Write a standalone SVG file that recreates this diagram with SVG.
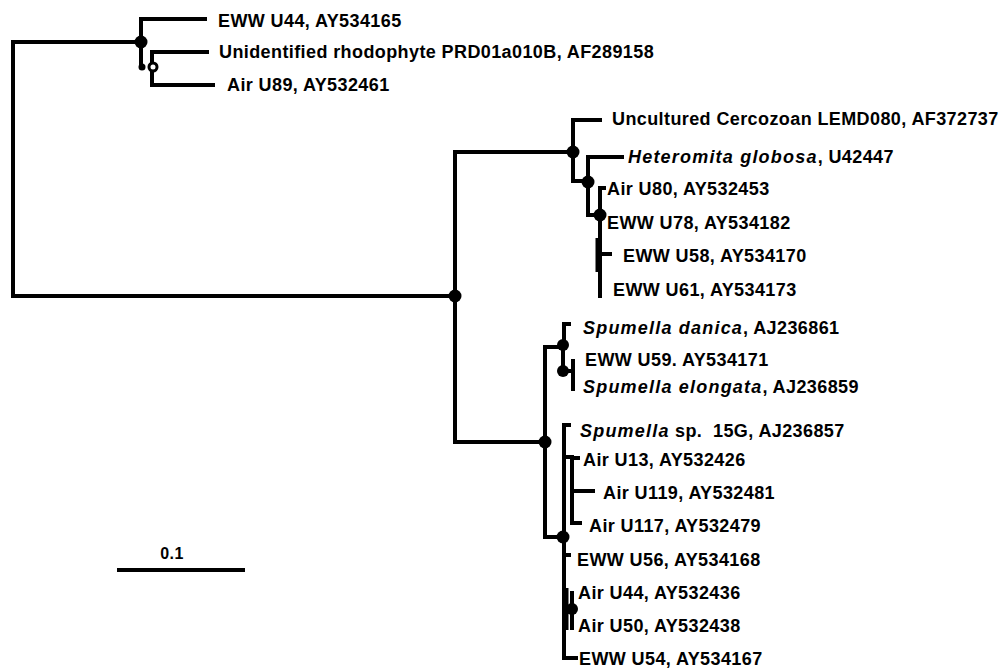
<svg xmlns="http://www.w3.org/2000/svg" width="1004" height="669" viewBox="0 0 1004 669">
<style>
.lbl{font-family:"Liberation Sans",Arial,sans-serif;font-weight:bold;font-size:18px;fill:#000;letter-spacing:0.4px}
.it{font-style:italic;letter-spacing:1.2px}
.br{fill:none;stroke:#000;stroke-width:4;stroke-linecap:square;stroke-linejoin:miter}
.thin{fill:none;stroke:#000;stroke-width:3}
.dot{fill:#000}
.open{fill:#fff;stroke:#000;stroke-width:3}
</style>
<rect width="1004" height="669" fill="#fff"/>
<g id="connectors">
<path class="br" d="M141,42 H13 V296 H455"/>
<path class="br" d="M205,19 H141 V67"/>
<path class="br" d="M207,52 H152 V85 H213"/>
<path class="br" d="M455,296 V152 H573"/>
<path class="br" d="M455,296 V442 H545"/>
<path class="br" d="M600,120 H573 V181 H588"/>
<path class="br" d="M622,157 H588 V215 H600"/>
<path class="br" d="M604,188 H600 V296"/>
<path class="br" d="M600,254 H610"/>
<path class="thin" d="M597,238 V272"/>
<path class="br" d="M563,347 H545 V537 H563"/>
<path class="br" d="M569,324 H564 V347"/>
<path class="br" d="M563,347 V371 H573"/>
<path class="br" d="M573,361 V389"/>
<path class="br" d="M569,425 H564 V658 H576"/>
<path class="br" d="M564,457 H572 V523 H580"/>
<path class="br" d="M572,458 H578"/>
<path class="br" d="M572,491 H593"/>
<path class="br" d="M564,555 H569"/>
<path class="br" d="M564,609 H572"/>
<path class="br" d="M572,593 V628"/>
<path class="thin" d="M567,588 V630"/>
</g>
<g id="internal-nodes">
<circle id="n-top" class="dot" cx="141" cy="42" r="6.5"/>
<circle id="n-top-small" class="dot" cx="142" cy="67" r="3.5"/>
<circle id="n-top-open" class="open" cx="153" cy="67" r="4"/>
<circle id="n-main" class="dot" cx="455" cy="296" r="6.5"/>
<circle id="n-cerc" class="dot" cx="573" cy="152" r="6.5"/>
<circle id="n-hetero" class="dot" cx="588" cy="182" r="6.5"/>
<circle id="n-u78" class="dot" cx="600" cy="215" r="6.5"/>
<circle id="n-spum" class="dot" cx="545" cy="442" r="6.5"/>
<circle id="n-danica" class="dot" cx="563" cy="345" r="6"/>
<circle id="n-elong" class="dot" cx="563" cy="371" r="6"/>
<circle id="n-air" class="dot" cx="563" cy="537" r="6.5"/>
<circle id="n-u44" class="dot" cx="572" cy="609" r="6"/>
</g>
<g id="leaf-eww-u44"><text class="lbl" x="218" y="27">EWW U44, AY534165</text></g>
<g id="leaf-rhodophyte"><text class="lbl" x="219" y="58">Unidentified rhodophyte PRD01a010B, AF289158</text></g>
<g id="leaf-air-u89"><text class="lbl" x="227" y="91">Air U89, AY532461</text></g>
<g id="leaf-cercozoan"><text class="lbl" x="612" y="125">Uncultured Cercozoan LEMD080, AF372737</text></g>
<g id="leaf-heteromita"><text class="lbl" x="628" y="163"><tspan class="it">Heteromita globosa</tspan>, U42447</text></g>
<g id="leaf-air-u80"><text class="lbl" x="607" y="195">Air U80, AY532453</text></g>
<g id="leaf-eww-u78"><text class="lbl" x="607" y="229">EWW U78, AY534182</text></g>
<g id="leaf-eww-u58"><text class="lbl" x="623" y="262">EWW U58, AY534170</text></g>
<g id="leaf-eww-u61"><text class="lbl" x="613" y="296">EWW U61, AY534173</text></g>
<g id="leaf-danica"><text class="lbl" x="583" y="334"><tspan class="it">Spumella danica</tspan>, AJ236861</text></g>
<g id="leaf-eww-u59"><text class="lbl" x="585" y="366">EWW U59. AY534171</text></g>
<g id="leaf-elongata"><text class="lbl" x="583" y="393"><tspan class="it">Spumella elongata</tspan>, AJ236859</text></g>
<g id="leaf-spumella-15g"><text class="lbl" x="580" y="437" xml:space="preserve"><tspan class="it">Spumella</tspan> sp.  15G, AJ236857</text></g>
<g id="leaf-air-u13"><text class="lbl" x="583" y="466">Air U13, AY532426</text></g>
<g id="leaf-air-u119"><text class="lbl" x="603" y="499">Air U119, AY532481</text></g>
<g id="leaf-air-u117"><text class="lbl" x="589" y="532">Air U117, AY532479</text></g>
<g id="leaf-eww-u56"><text class="lbl" x="577" y="566">EWW U56, AY534168</text></g>
<g id="leaf-air-u44"><text class="lbl" x="578" y="599">Air U44, AY532436</text></g>
<g id="leaf-air-u50"><text class="lbl" x="578" y="632">Air U50, AY532438</text></g>
<g id="leaf-eww-u54"><text class="lbl" x="579" y="665">EWW U54, AY534167</text></g>
<g id="scale-bar">
<path class="br" d="M119,570 H243"/>
<text class="lbl" x="172" y="559" text-anchor="middle" style="font-size:16px">0.1</text>
</g>
</svg>
